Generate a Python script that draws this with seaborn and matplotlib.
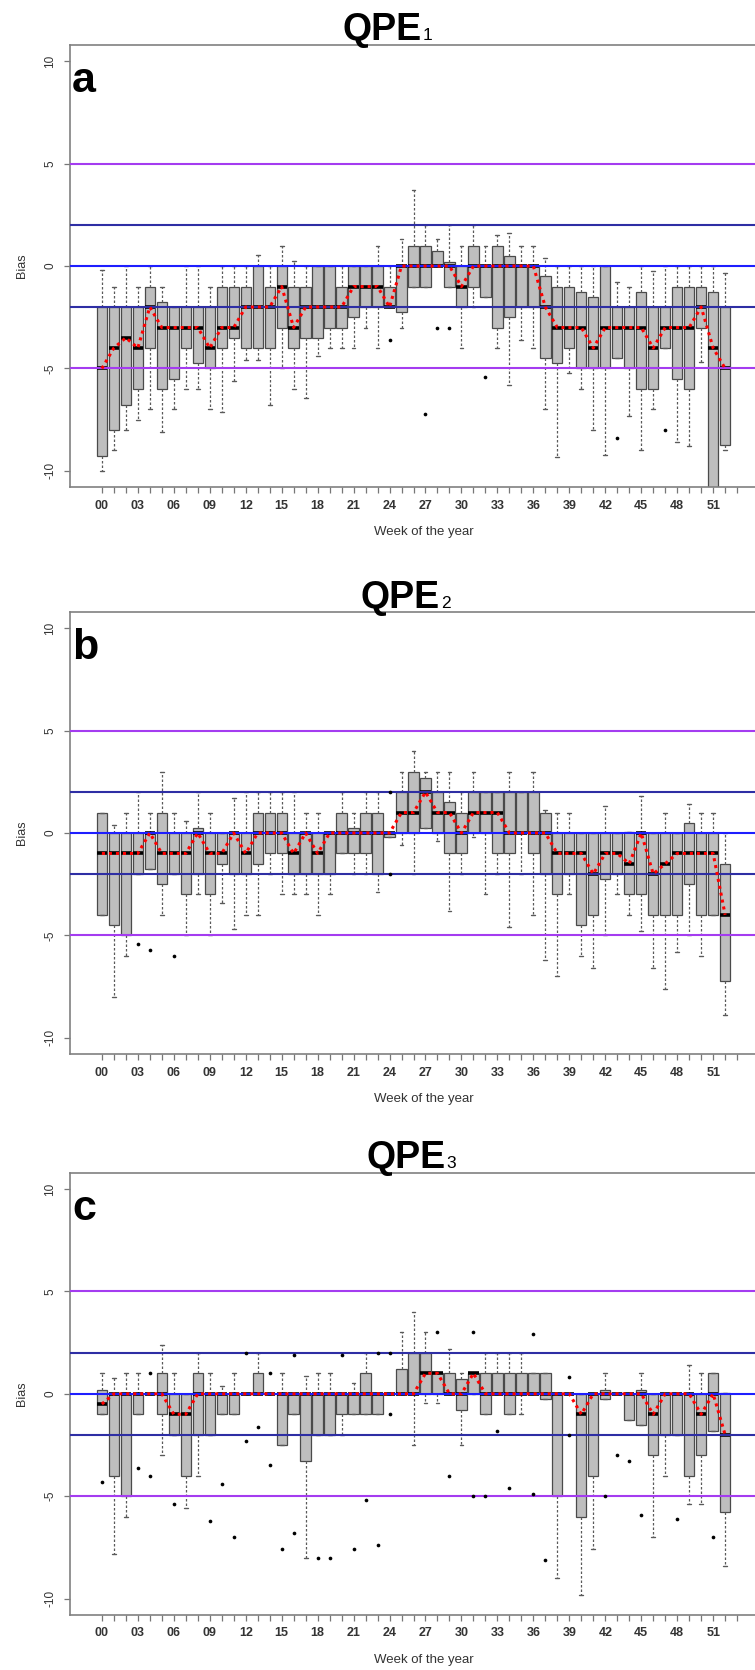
import matplotlib
matplotlib.use("Agg")
import matplotlib.pyplot as plt
import numpy as np
import pandas as pd
import seaborn as sns

# ---------------------------------------------------------------
# Weekly bias summaries (whisker low, Q1, median, Q3, whisker high)
# ---------------------------------------------------------------
weeks = list(range(53))
tick_labels = [f"{w:02d}" if (w % 3 == 0 and w <= 51) else "" for w in range(54)]

# QPE1
a_lo  = [-10, -9, -8, -7.5, -7, -8.1, -7, -6, -6, -7, -7.1, -5.6, -4.6, -4.6, -6.8, -5, -6, -6.45, -4.4, -4,
         -4, -4, -3, -4, -2, -3, -1, -1, 0, -1, -4, -2, -1.5, -4, -5.8, -3.6, -4, -7, -9.3, -5.2,
         -6, -8, -9.2, -4.5, -7.3, -9, -7, -4, -8.6, -8.8, -4.7, -11, -9]
a_q1  = [-9.27, -8, -6.8, -6, -4, -6, -5.5, -4, -4.75, -5, -4, -3.5, -4, -4, -4, -3, -4, -3.5, -3.5, -3,
         -3, -2.5, -2, -2, -2, -2.25, -1, -1, 0, -1, -2, -1, -1.5, -3, -2.5, -2, -2, -4.5, -4.75, -4,
         -5, -5, -5, -4.5, -5, -6, -6, -4, -5.5, -6, -3, -11, -8.75]
a_med = [-5, -4, -3.5, -4, -2, -3, -3, -3, -3, -4, -3, -3, -2, -2, -2, -1, -3, -2, -2, -2,
         -2, -1, -1, -1, -2, 0, 0, 0, 0, 0, -1, 0, 0, 0, 0, 0, 0, -2, -3, -3,
         -3, -4, -3, -3, -3, -3, -4, -3, -3, -3, -2, -4, -5]
a_q3  = [-2, -2, -2, -2, -1, -1.75, -2, -2, -2, -2, -1, -1, -1, 0, -1, 0, -1, -1, 0, 0,
         -1, 0, 0, 0, -1, 0, 1, 1, 0.75, 0.2, 0, 1, 0, 1, 0.5, 0, 0, -0.5, -1, -1,
         -1.25, -1.5, 0, -2, -2, -1.25, -2, -2, -1, -1, -1, -1.25, -2]
a_hi  = [-0.2, -1, 0, -1, 0, -1, -2, 0, 0, -1, 0, 0, 0, 0.55, 0, 1, 0.25, 0, 0, 0,
         0, 0, 0, 1, 0, 1.33, 3.7, 2, 1.33, 2, 1, 2, 1, 1.5, 1.6, 1, 1, 0.4, 0, 0,
         0, 0, 0, -0.8, -1, 0, -0.25, 0, 0, 0, 0, 0, -0.35]
a_out_week = [24, 27, 28, 29, 32, 43, 47]
a_out_bias = [-3.6, -7.2, -3, -3, -5.4, -8.4, -8]

# QPE2
b_lo  = [-4, -8, -6, -2, -1.75, -4, -2, -5, -3, -5, -3.4, -4.7, -4, -4, -2, -3, -3, -3, -4, -3,
         -1, -2, -2, -2.9, -0.2, -0.6, -2, 0.25, -0.4, -3.8, -2, -0.2, -3, -2, -4.6, -2, -4, -6.2, -7, -3,
         -6, -6.6, -5, -3, -4, -4.8, -6.6, -7.6, -5.8, -5, -6, -4, -8.9]
b_q1  = [-4, -4.5, -5, -2, -1.75, -2.5, -2, -3, -2, -3, -1.5, -2, -2, -1.5, -1, -1, -2, -2, -2, -2,
         -1, -1, -1, -2, -0.2, 0, 0, 0.25, 0, -1, -1, 0, 0, -1, -1, 0, -1, -2, -3, -2,
         -4.5, -4, -2.25, -2, -3, -3, -4, -4, -4, -2.5, -4, -4, -7.25]
b_med = [-1, -1, -1, -1, 0, -1, -1, -1, 0, -1, -1, 0, -1, 0, 0, 0, -1, 0, -1, 0,
         0, 0, 0, 0, 0, 1, 1, 2, 1, 1, 0, 1, 1, 1, 0, 0, 0, 0, -1, -1,
         -1, -2, -1, -1, -1.5, 0, -2, -1.5, -1, -1, -1, -1, -4]
b_q3  = [1, 0, 0, 0, 0, 1, 0, 0, 0.25, 0, 0, 0, 0, 1, 1, 1, 0, 0, 0, 0,
         1, 0.25, 1, 1, 0, 2, 3, 2.7, 2, 1.5, 1, 2, 2, 2, 2, 2, 2, 1, 0, 0,
         0, 0, 0, 0, 0.05, 0, 0, 0, 0, 0.5, 0, 0, -1.5]
b_hi  = [1, 0.4, 1, 2, 1, 3, 1, 0.6, 2, 1, 0, 1.7, 2, 2, 2, 2, 2, 1, 1, 0,
         2, 1, 2, 2, 0, 3, 4, 3, 3, 3, 2, 3, 2, 2, 3, 2, 3, 1.1, 1, 1,
         0, 0, 1.3, 0, 0.05, 1.8, 0, 1, 0, 1.4, 1, 1, 0]
b_out_week = [3, 4, 6, 24, 24]
b_out_bias = [-5.4, -5.7, -6, 2, -2]

# QPE3
c_lo  = [-1, -7.8, -6, -1, 0, -3, -2, -5.6, -4, -2, -1, -1, 0, 0, 0, -2.5, -1, -8, -2, -2,
         -2, -1, -1, -1, 0, 0, -2.5, -0.45, -0.45, 0, -2.5, 0, -1, 0, -1, -1, 0, -0.25, -9, 0,
         -9.8, -7.6, -0.25, 0, -1.3, -1.5, -7, -4, -2, -5.4, -5.4, -1.8, -8.4]
c_q1  = [-1, -4, -5, -1, 0, -1, -2, -4, -2, -2, -1, -1, 0, 0, 0, -2.5, -1, -3.3, -2, -2,
         -1, -1, -1, -1, 0, 0, 0, 0, 0, 0, -0.8, 0, -1, 0, -1, 0, 0, -0.25, -5, 0,
         -6, -4, -0.25, 0, -1.3, -1.5, -3, -2, -2, -4, -3, -1.8, -5.75]
c_med = [-0.5, 0, 0, 0, 0, 0, -1, -1, 0, 0, 0, 0, 0, 0, 0, 0, 0, 0, 0, 0,
         0, 0, 0, 0, 0, 0, 0, 1, 1, 0, 0, 1, 0, 0, 0, 0, 0, 0, 0, 0,
         -1, 0, 0, 0, 0, 0, -1, 0, 0, 0, -1, 0, -2]
c_q3  = [0.2, 0, 0, 0, 0, 1, 0, 0, 1, 0, 0, 0, 0, 1, 0, 0, 0, 0, 0, 0,
         0, 0, 1, 0, 0, 1.2, 2, 2, 1, 1, 0.7, 1, 1, 1, 1, 1, 1, 1, 0, 0,
         0, 0, 0.2, 0, 0, 0.2, 0, 0, 0, 0, 0, 1, 0.05]
c_hi  = [1, 0.75, 1, 1, 0, 2.4, 1, 0, 2, 1, 0.4, 1, 0, 2, 0, 1, 0, 0.85, 1, 1,
         0, 0.55, 2, 0, 0, 3, 4, 3, 1, 2.2, 1, 1, 2, 2, 2, 2, 1, 1, 0, 0,
         0, 0, 1, 0, 0, 1, 0, 0, 0, 1.4, 1, 1, 0.05]
c_out_week = [0, 3, 4, 4, 6, 9, 10, 11, 12, 12, 13, 14, 14, 15, 16, 16, 18, 19, 20, 21,
              22, 23, 23, 24, 24, 28, 29, 31, 31, 32, 33, 34, 36, 36, 37, 39, 39, 42, 43, 44,
              45, 48, 51]
c_out_bias = [-4.3, -3.6, 1, -4, -5.4, -6.2, -4.4, -7, 2, -2.3, -1.6, 1, -3.5, -7.6, 1.9, -6.8, -8, -8, 1.9, -7.6,
              -5.2, 2, -7.4, 2, -1, 3, -4, 3, -5, -5, -1.8, -4.6, 2.9, -4.9, -8.1, 0.8, -2, -5, -3, -3.3,
              -5.9, -6.1, -7]

panels = [
    ("a", "1", a_lo, a_q1, a_med, a_q3, a_hi, a_out_week, a_out_bias, 44.8, 487.3, 343),
    ("b", "2", b_lo, b_q1, b_med, b_q3, b_hi, b_out_week, b_out_bias, 612.0, 1054.0, 361),
    ("c", "3", c_lo, c_q1, c_med, c_q3, c_hi, c_out_week, c_out_bias, 1172.6, 1615.0, 366),
]

W, H = 755, 1670
LEFT_PX, RIGHT_PX = 70, 769

sns.set_theme(style="white")
plt.rcParams["font.family"] = ["Liberation Sans", "DejaVu Sans"]

fig = plt.figure(figsize=(W / 100, H / 100), dpi=100)
fig.patch.set_facecolor("white")
renderer = fig.canvas.get_renderer()


def fx(px):
    return px / W


def fy(py):
    return 1 - py / H


for letter, sub, lo, q1, med, q3, hi, ow, ob, top, bottom, title_x in panels:
    ax = fig.add_axes([fx(LEFT_PX), fy(bottom), (RIGHT_PX - LEFT_PX) / W, (bottom - top) / H])

    # five summary values per week -> quartiles and whisker ends reproduce exactly
    frame = pd.DataFrame(
        [(w, v) for w, vals in zip(weeks, zip(lo, q1, med, q3, hi)) for v in vals],
        columns=["week", "bias"],
    )
    sns.boxplot(
        data=frame, x="week", y="bias", orient="x", native_scale=True,
        whis=(0, 100), width=0.86, color="#BEBEBE", saturation=1,
        linecolor="#4A4A4A", linewidth=0.9, fliersize=0,
        medianprops={"color": "black", "linewidth": 2.6, "solid_capstyle": "butt"},
        whiskerprops={"color": "#5A5A5A", "linestyle": (0, (2.0, 1.6)), "linewidth": 0.9},
        capprops={"color": "#5A5A5A", "linewidth": 1.0},
        capwidths=0.32, ax=ax,
    )

    # reference bias levels
    for yv, col in [(5, "#A43CF0"), (-5, "#A43CF0"), (2, "#2E2EA4"), (-2, "#2E2EA4"), (0, "#1E1EFF")]:
        ax.axhline(yv, color=col, linewidth=1.5, zorder=6)

    # weekly median trace
    sns.lineplot(x=weeks, y=med, ax=ax, color="#FF0000", linewidth=2.2,
                 linestyle=(0, (1.0, 1.3)), errorbar=None, zorder=8)

    # outlying values
    sns.scatterplot(x=ow, y=ob, ax=ax, color="black", s=7, linewidth=0,
                    legend=False, zorder=9)

    ax.set_xlim(-2.66, 55.66)
    ax.set_ylim(-10.8, 10.8)
    ax.set_xlabel("")
    ax.set_ylabel("")
    ax.set_xticks(range(54))
    ax.set_xticklabels(tick_labels, fontsize=9, fontweight="bold", color="#333333")
    ax.set_yticks([-10, -5, 0, 5, 10])
    ax.set_yticklabels(["-10", "-5", "0", "5", "10"], rotation=90, va="center",
                       fontsize=8.5, color="#333333")
    ax.tick_params(axis="x", direction="out", length=4, width=0.9, color="#777777", pad=5, bottom=True)
    ax.tick_params(axis="y", direction="out", length=4, width=0.9, color="#777777", pad=6, left=True)
    for side in ["left", "bottom", "top", "right"]:
        ax.spines[side].set_color("#808080")
        ax.spines[side].set_linewidth(1.2)
    ax.grid(False)

    # panel letter
    fig.text(fx(72), fy(top + 47), letter, fontsize=31, fontweight="bold",
             ha="left", va="baseline", color="black")

    # axis labels
    fig.text(fx(22), fy((top + bottom) / 2), "Bias", rotation=90, fontsize=9,
             ha="center", va="center", color="#333333")
    fig.text(fx(424), fy(bottom + 45), "Week of the year", fontsize=9.5,
             ha="center", va="center", color="#333333")

    # panel title with subscript index
    t = fig.text(fx(title_x), fy(top - 4.5), "QPE", fontsize=27, fontweight="bold",
                 ha="left", va="baseline", color="black")
    bb = t.get_window_extent(renderer)
    fig.text((bb.x1 + 1) / W, fy(top - 4.5), sub, fontsize=12.5,
             ha="left", va="baseline", color="black")

fig.savefig("out.png", dpi=100, facecolor="white")
